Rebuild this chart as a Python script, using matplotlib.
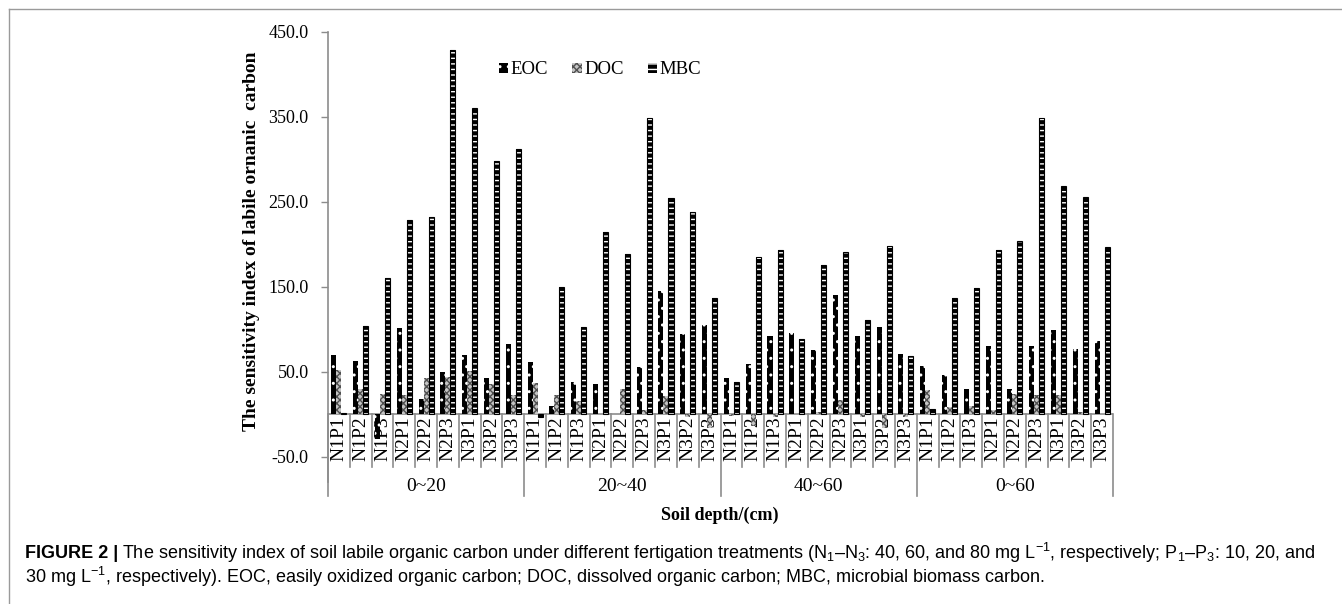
import matplotlib
matplotlib.use('Agg')
import numpy as np
import matplotlib.pyplot as plt
from matplotlib.lines import Line2D

#######################################
# data
#######################################

depths = ['0~20', '20~40', '40~60', '0~60']
treatments = ['N1P1', 'N1P2', 'N1P3', 'N2P1', 'N2P2', 'N2P3', 'N3P1', 'N3P2', 'N3P3']

eoc = [69, 62, -29, 101, 18, 49, 70, 42, 83,
       61, 10, 38, 35, 0, 56, 145, 94, 105,
       42, 59, 92, 96, 75, 140, 92, 103, 71,
       57, 46, 29, 80, 30, 80, 99, 77, 86]

doc = [52, 30, 24, 23, 43, 44, 51, 36, 22,
       37, 23, 15, 0, 30, 5, 21, -3, -16,
       -2, -14, -3, 0, 2, 17, -3, -16, -4,
       28, 8, 10, 5, 24, 22, 22, 2, 0]

mbc = [1, 104, 160, 229, 232, 429, 360, 298, 312,
       -4, 150, 103, 215, 189, 349, 255, 238, 137,
       38, 185, 193, 89, 175, 191, 111, 198, 68,
       6, 137, 148, 193, 204, 349, 269, 256, 197]

yticks = [-50, 50, 150, 250, 350, 450]

###############################
# figure
###############################

plt.rcParams['font.family'] = ['Liberation Serif', 'DejaVu Serif']
plt.rcParams['mathtext.fontset'] = 'custom'
plt.rcParams['mathtext.rm'] = 'Liberation Sans'
plt.rcParams['mathtext.it'] = 'Liberation Sans:italic'
plt.rcParams['hatch.linewidth'] = 1.0

W, H = 1342, 604
fig = plt.figure(figsize=(W / 100, H / 100), dpi=100)
ax = fig.add_axes([328 / W, 1 - 482 / H, (1113 - 328) / W, (482 - 32) / H])

n = len(depths) * len(treatments)
x = np.arange(n) + 0.5
bw = 0.23
gray = '#8c8c8c'

ax.bar(x - bw, eoc, bw, color='black', edgecolor='white', hatch='..',
       linewidth=0, zorder=3, label='EOC')
ax.bar(x, doc, bw, color='#c4c4c4', edgecolor='#505050', hatch='xxxxx',
       linewidth=0, zorder=3, label='DOC')
ax.bar(x + bw, mbc, bw, color='black', edgecolor='white', hatch='---',
       linewidth=0, zorder=3, label='MBC')
ax.bar(x + bw, mbc, bw, fill=False, edgecolor='black', linewidth=0.8, zorder=3)

ax.set_xlim(0, n)
ax.set_ylim(-80, 450)
ax.set_yticks(yticks)
ax.set_yticklabels(['%.1f' % v for v in yticks], fontsize=13)
ax.tick_params(axis='y', length=5, width=1, color=gray, pad=9)
ax.set_xticks([])
for s in ['top', 'right', 'bottom']:
    ax.spines[s].set_visible(False)
ax.spines['left'].set_color(gray)
ax.spines['left'].set_linewidth(1.2)

# category axis
ax.axhline(0, color=gray, lw=1.2, zorder=2)
for i in range(n + 1):
    low = -97 if i % len(treatments) == 0 else -62
    ax.plot([i, i], [0, low], color=gray, lw=1.2, clip_on=False, zorder=2)
for i in range(n):
    ax.text(x[i], -3, treatments[i % len(treatments)], rotation=90,
            ha='center', va='top', fontsize=14, zorder=2)
for j, d in enumerate(depths):
    ax.text(j * len(treatments) + len(treatments) / 2, -85, d,
            ha='center', va='center', fontsize=14)

ax.set_ylabel('The sensitivity index of labile ornanic  carbon',
              fontsize=14, fontweight='bold')
ax.yaxis.set_label_coords((260 - 328) / (1113 - 328), (482 - 241) / 450)
fig.text(720 / W, 1 - 515 / H, 'Soil depth/(cm)', ha='center', va='center',
         fontsize=13, fontweight='bold')

ax.legend(loc='center', bbox_to_anchor=(600 / W, 1 - 70 / H),
          bbox_transform=fig.transFigure, ncol=3, frameon=False,
          fontsize=13.5, handlelength=0.5, handleheight=0.5,
          handletextpad=0.12, columnspacing=1.3)

# frame and caption
fig.add_artist(Line2D([9 / W, 1], [1 - 9 / H, 1 - 9 / H], color='#9a9a9a', lw=1))
fig.add_artist(Line2D([9 / W, 9 / W], [0, 1 - 9 / H], color='#9a9a9a', lw=1))

cap_font = ['Liberation Sans', 'DejaVu Sans']
cap_size = 13
t1 = fig.text(25 / W, 1 - 553 / H, 'FIGURE 2 |', family=cap_font, fontsize=cap_size,
              fontweight='bold', va='center')
fig.canvas.draw()
bb = t1.get_window_extent(fig.canvas.get_renderer())
fig.text(bb.x1 / W + 4 / W, 1 - 553 / H,
         'The sensitivity index of soil labile organic carbon under different fertigation '
         'treatments (N$_1$–N$_3$: 40, 60, and 80 mg L$^{-1}$, respectively; P$_1$–P$_3$: '
         '10, 20, and', family=cap_font, fontsize=cap_size, va='center')
fig.text(25 / W, 1 - 577 / H,
         '30 mg L$^{-1}$, respectively). EOC, easily oxidized organic carbon; DOC, dissolved '
         'organic carbon; MBC, microbial biomass carbon.',
         family=cap_font, fontsize=cap_size, va='center')

plt.savefig('out.png', dpi=100)
